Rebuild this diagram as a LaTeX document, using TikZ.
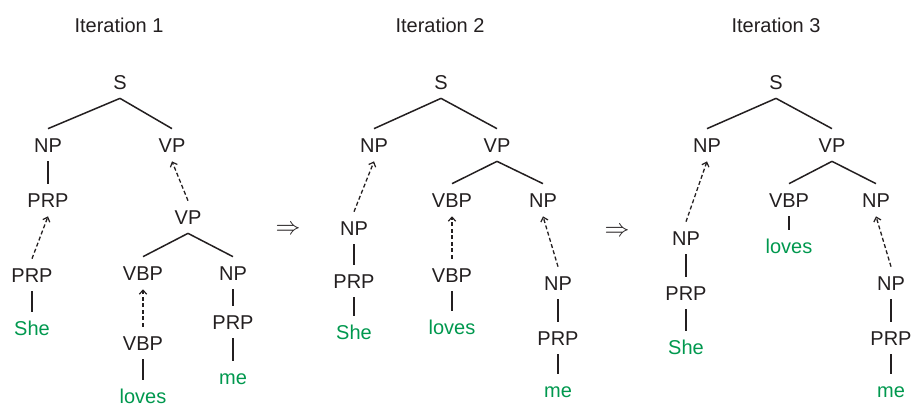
\documentclass[tikz,border=0pt]{standalone}
\usepackage{fontspec}
\setmainfont{Liberation Sans}
\usetikzlibrary{arrows.meta}
\definecolor{ink}{RGB}{35,31,32}
\definecolor{wordgreen}{RGB}{0,152,78}
\begin{document}
\begin{tikzpicture}[x=1pt,y=-1pt,
  lab/.style={inner xsep=0pt,inner ysep=9pt,text height=14.3pt,text depth=0pt,
    font=\fontsize{20}{24}\selectfont,text=ink},
  word/.style={lab,text=wordgreen},
  ttl/.style={lab},
  edge/.style={draw=ink,line width=1.5pt},
  moved/.style={draw=ink,line width=1.3pt,dash pattern=on 4pt off 2.5pt,
    -{Straight Barb[length=4pt,width=7.5pt,line width=1.2pt]}},
  imp/.style={inner sep=0pt,text=ink,font=\fontsize{24}{28}\selectfont}]
\useasboundingbox (0,0) rectangle (912,405);
% titles
\node[ttl] (t1) at (119,25) {Iteration 1};
\node[ttl] (t2) at (440,25) {Iteration 2};
\node[ttl] (t3) at (776,25) {Iteration 3};
\node[imp] (i1) at (288,230) {$\Rightarrow$};
\node[imp] (i2) at (617,232) {$\Rightarrow$};
% ---------- tree 1
\node[lab] (aS) at (120,82) {S};
\node[lab] (aNP) at (48,145) {NP};
\node[lab] (aVP) at (172,145) {VP};
\node[lab] (aPRP) at (48,200) {PRP};
\node[lab] (aPRP2) at (32,275) {PRP};
\node[word] (aShe) at (32,328) {She};
\node[lab] (aVP2) at (188,217) {VP};
\node[lab] (aVBP) at (143,273) {VBP};
\node[lab] (aNP2) at (233,273) {NP};
\node[lab] (aVBP2) at (143,343) {VBP};
\node[word] (aloves) at (143,396) {loves};
\node[lab] (aPRP3) at (233,322) {PRP};
\node[word] (ame) at (233,377) {me};
\draw[edge] (aS.south) -- (aNP.north);
\draw[edge] (aS.south) -- (aVP.north);
\draw[edge] (aNP.south) -- (aPRP.north);
\draw[moved] (aPRP2.north) -- (aPRP.south);
\draw[edge] (aPRP2.south) -- (aShe.north);
\draw[moved] (aVP2.north) -- (aVP.south);
\draw[edge] (aVP2.south) -- (aVBP.north);
\draw[edge] (aVP2.south) -- (aNP2.north);
\draw[moved] (aVBP2.north) -- (aVBP.south);
\draw[edge] (aVBP2.south) -- (aloves.north);
\draw[edge] (aNP2.south) -- (aPRP3.north);
\draw[edge] (aPRP3.south) -- (ame.north);
% ---------- tree 2
\node[lab] (bS) at (441,82) {S};
\node[lab] (bNP) at (374,145) {NP};
\node[lab] (bVP) at (497,145) {VP};
\node[lab] (bVBP) at (452,200) {VBP};
\node[lab] (bNP2) at (543,200) {NP};
\node[lab] (bNP3) at (354,228) {NP};
\node[lab] (bPRP) at (354,281) {PRP};
\node[word] (bShe) at (354,332) {She};
\node[lab] (bVBP2) at (452,275) {VBP};
\node[word] (bloves) at (452,327) {loves};
\node[lab] (bNP4) at (558,283) {NP};
\node[lab] (bPRP2) at (558,338) {PRP};
\node[word] (bme) at (558,390) {me};
\draw[edge] (bS.south) -- (bNP.north);
\draw[edge] (bS.south) -- (bVP.north);
\draw[moved] (bNP3.north) -- (bNP.south);
\draw[edge] (bNP3.south) -- (bPRP.north);
\draw[edge] (bPRP.south) -- (bShe.north);
\draw[edge] (bVP.south) -- (bVBP.north);
\draw[edge] (bVP.south) -- (bNP2.north);
\draw[moved] (bVBP2.north) -- (bVBP.south);
\draw[edge] (bVBP2.south) -- (bloves.north);
\draw[moved] (bNP4.north) -- (bNP2.south);
\draw[edge] (bNP4.south) -- (bPRP2.north);
\draw[edge] (bPRP2.south) -- (bme.north);
% ---------- tree 3
\node[lab] (cS) at (776,82) {S};
\node[lab] (cNP) at (707,145) {NP};
\node[lab] (cVP) at (832,145) {VP};
\node[lab] (cVBP) at (789,200) {VBP};
\node[lab] (cNP2) at (876,200) {NP};
\node[word] (cloves) at (789,246) {loves};
\node[lab] (cNP3) at (686,238) {NP};
\node[lab] (cPRP) at (686,293) {PRP};
\node[word] (cShe) at (686,347) {She};
\node[lab] (cNP4) at (891,283) {NP};
\node[lab] (cPRP2) at (891,338) {PRP};
\node[word] (cme) at (891,390) {me};
\draw[edge] (cS.south) -- (cNP.north);
\draw[edge] (cS.south) -- (cVP.north);
\draw[edge] (cVP.south) -- (cVBP.north);
\draw[edge] (cVP.south) -- (cNP2.north);
\draw[edge] (cVBP.south) -- (cloves.north);
\draw[moved] (cNP3.north) -- (cNP.south);
\draw[edge] (cNP3.south) -- (cPRP.north);
\draw[edge] (cPRP.south) -- (cShe.north);
\draw[moved] (cNP4.north) -- (cNP2.south);
\draw[edge] (cNP4.south) -- (cPRP2.north);
\draw[edge] (cPRP2.south) -- (cme.north);
\end{tikzpicture}
\end{document}
